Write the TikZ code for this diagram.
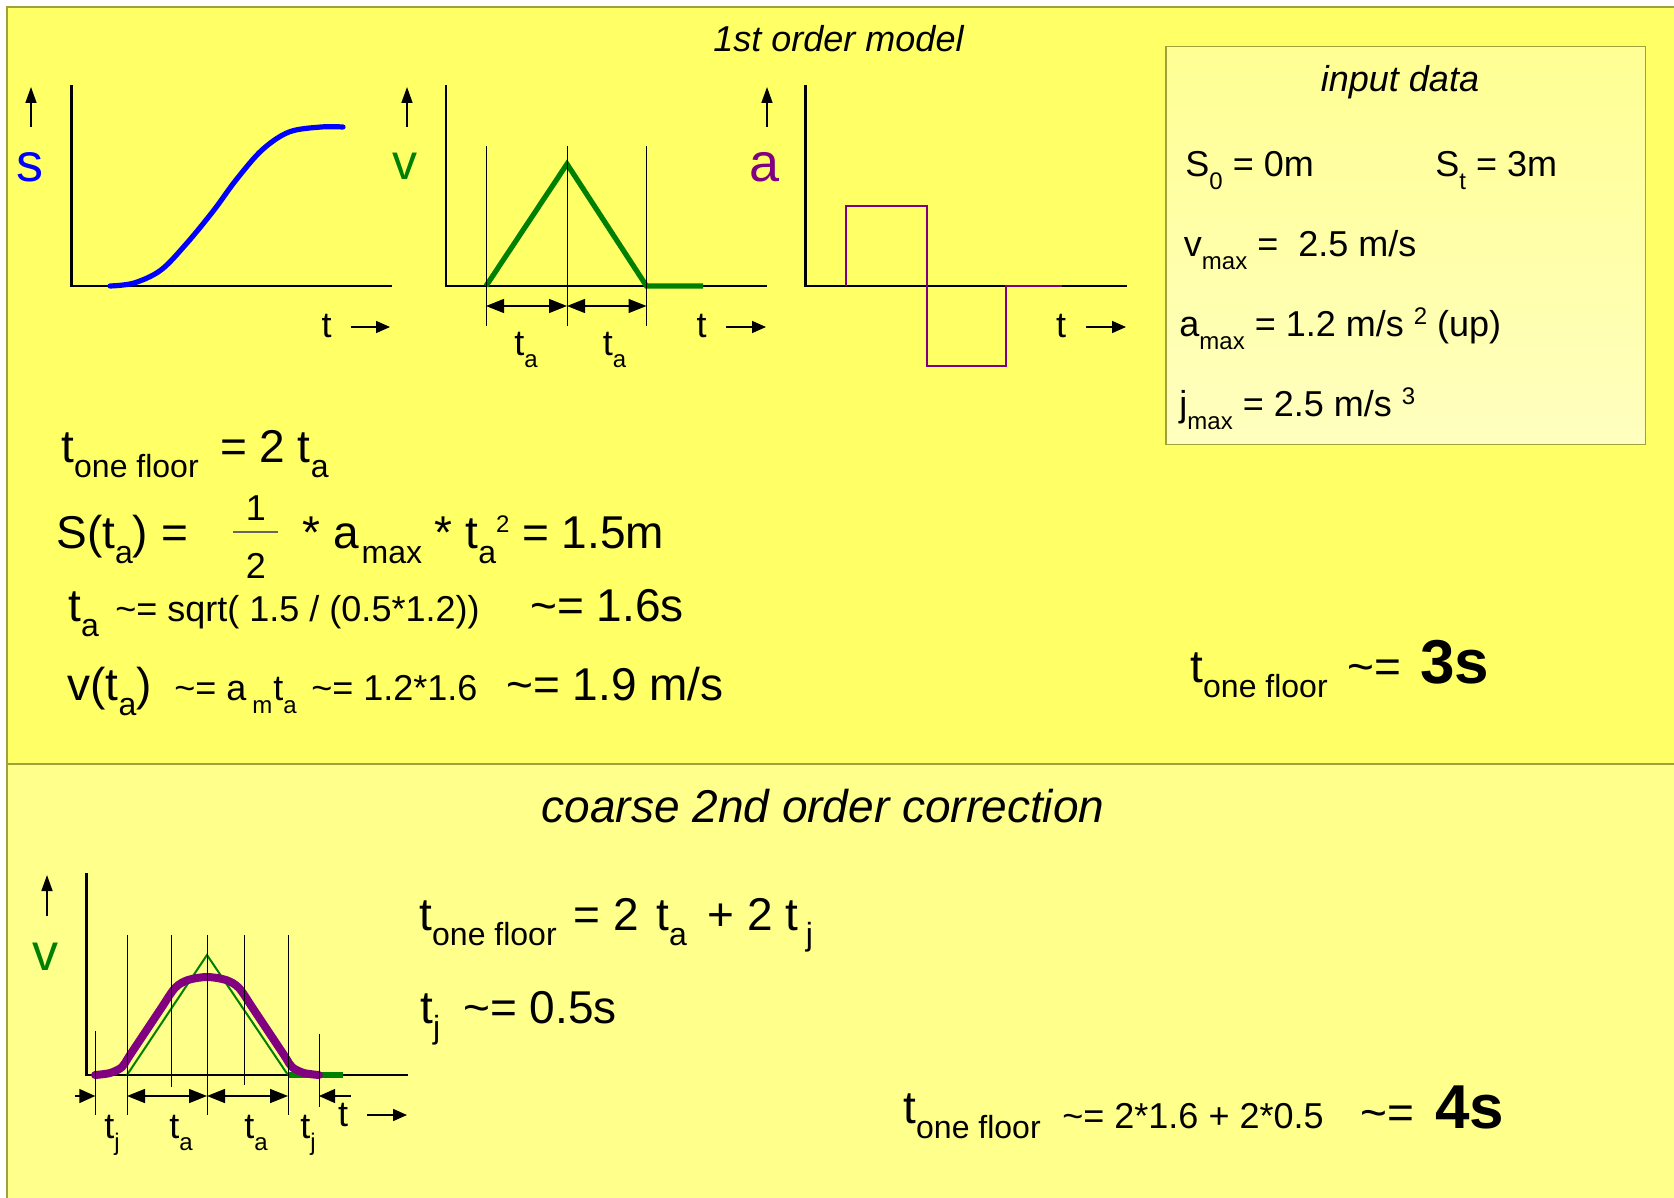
\documentclass[tikz,border=0pt]{standalone}
\usepackage{fontspec}
\setmainfont{Liberation Sans}
\usetikzlibrary{arrows.meta}

\definecolor{slideyellow}{RGB}{255,255,102}
\definecolor{paleyellow}{RGB}{255,255,140}
\definecolor{frameolive}{RGB}{160,160,60}
\definecolor{curveblue}{RGB}{0,0,255}
\definecolor{curvegreen}{RGB}{0,128,0}
\definecolor{curvepurple}{RGB}{128,0,128}

\newcommand\appr{\textasciitilde=}
\newcommand\lo[1]{\raisebox{-.33em}{\fontsize{16}{16}\selectfont #1}}
\newcommand\slo[1]{\raisebox{-.36em}{\fontsize{12}{12}\selectfont #1}}
\newcommand\shi[1]{\raisebox{.33em}{\fontsize{12}{12}\selectfont #1}}

\tikzset{
  bigtxt/.style={font=\fontsize{23}{23}\selectfont, inner sep=0pt, anchor=base west},
  midtxt/.style={font=\fontsize{18}{18}\selectfont, inner sep=0pt, anchor=base west},
  tinytxt/.style={font=\fontsize{12}{12}\selectfont, inner sep=0pt, anchor=base west},
  boldtxt/.style={font=\fontsize{31}{31}\selectfont\bfseries, inner sep=0pt, anchor=base west},
  headtxt/.style={font=\fontsize{18}{18}\selectfont\itshape, inner sep=0pt, anchor=base},
  axislabel/.style={font=\fontsize{27}{27}\selectfont, inner sep=0pt, anchor=base},
  axisline/.style={line width=1.4pt},
  thinline/.style={line width=.5pt},
  uparrow/.style={line width=.8pt, -{Triangle[length=8pt,width=5.5pt]}},
  tarrow/.style={line width=.8pt, -{Triangle[length=7pt,width=6pt]}},
  dimarrow/.style={line width=.7pt, {Triangle[length=9pt,width=7pt]}-{Triangle[length=9pt,width=7pt]}},
  onearrow/.style={line width=.7pt, -{Triangle[length=8pt,width=7pt]}}
}

\begin{document}
\begin{tikzpicture}[x=.5pt, y=-.5pt]
\useasboundingbox (0,0) rectangle (1674,1198);
\clip (0,0) rectangle (1674,1198);
\fill[white] (0,0) rectangle (1674,1198);

% panels
\draw[frameolive, fill=slideyellow, line width=.8pt] (7,7) rectangle (1690,764);
\draw[frameolive, fill=paleyellow, line width=.8pt] (7,764) rectangle (1690,1210);
\draw[frameolive, line width=.8pt, top color=yellow!42!white, bottom color=yellow!25!white] (1166,46.5) rectangle (1645.5,444.5);

\node[headtxt] (ordertitle) at (838.5,52) {1st order model};
\node[headtxt] (boxtitle) at (1400,92) {input data};
\node[headtxt, font=\fontsize{23}{23}\selectfont\itshape] (corrtitle) at (823,822) {coarse 2nd order correction};

% s plot
\draw[axisline] (71.5,85) -- (71.5,286) -- (392,286);
\draw[uparrow] (31,127) -- (31,87);
\node[axislabel, text=curveblue] (slabel) at (30.5,182) {s};
\draw[curveblue, line width=2.6pt, line cap=round] plot[smooth, tension=.55] coordinates
  {(110,286) (134,283) (161,270) (187,243) (214,210) (236,180) (262,150) (289,132) (321,127) (343,127)};
\node[midtxt, anchor=base] (tone) at (326.5,337) {t};
\draw[tarrow] (351,327) -- (390,327);

% v plot
\draw[axisline] (446,85) -- (446,286) -- (767,286);
\draw[uparrow] (407,127) -- (407,87);
\node[axislabel, text=curvegreen, font=\fontsize{25}{25}\selectfont] (vlabel) at (405,180) {v};
\draw[curvegreen, line width=2.6pt] (486,286) -- (567,164) -- (646.5,286) -- (703,286);
\foreach \x in {486,567,646.5}
  \draw[thinline] (\x,146) -- (\x,326);
\draw[dimarrow] (486,306) -- (567,306);
\draw[dimarrow] (567,306) -- (646.5,306);
\node[midtxt] (taone) at (514,355) {t\slo{a}};
\node[midtxt] (tatwo) at (602.5,355) {t\slo{a}};
\node[midtxt, anchor=base] (ttwo) at (701.5,337) {t};
\draw[tarrow] (726,327) -- (766,327);

% a plot
\draw[axisline] (805.6,85) -- (805.6,286) -- (1126.6,286);
\draw[uparrow] (767,127) -- (767,87);
\node[axislabel, text=curvepurple] (alabel) at (764.6,182) {a};
\draw[curvepurple, line width=1.2pt] (845.7,286) -- (845.7,206) -- (927,206) -- (927,366)
  -- (1006,366) -- (1006,286) -- (1062,286);
\node[midtxt, anchor=base] (tthree) at (1061,337) {t};
\draw[tarrow] (1086,327) -- (1126,327);

% input data
\node[midtxt] (szero) at (1185,176.7) {S\slo{0} = 0m};
\node[midtxt] (stop) at (1435,176.7) {S\slo{t} = 3m};
\node[midtxt] (vmax) at (1183.5,256.7) {v\slo{max} =\ \ 2.5 m/s};
\node[midtxt] (amax) at (1179,336.7) {a\slo{max} = 1.2 m/s \shi{2} (up)};
\node[midtxt] (jmax) at (1179,416.7) {j\slo{max} = 2.5 m/s \shi{3}};

% first order formulas
\node[bigtxt] (floorone) at (61,462) {t\lo{one floor}};
\node[bigtxt] (flooronerhs) at (219.6,462) {= 2 t\lo{a}};
\node[bigtxt] (sta) at (56,548) {S(t\lo{a}) =};
\node[font=\fontsize{18}{18}\selectfont, inner sep=0pt, anchor=base] (fracnum) at (256,520) {1};
\node[font=\fontsize{18}{18}\selectfont, inner sep=0pt, anchor=base] (fracden) at (256,578) {2};
\draw[line width=.8pt, black!60] (233,532) -- (277.5,532);
\node[bigtxt] (starhs) at (302,548) {* a\hspace{1.5pt}\lo{max} * t\lo{a}\shi{2} = 1.5m};
\node[bigtxt] (taval) at (68,621.7) {t\lo{a}};
\node[midtxt] (tacalc) at (115,621.7) {\appr{} sqrt( 1.5 / (0.5*1.2))};
\node[bigtxt] (tares) at (530,621.7) {\appr{} 1.6s};
\node[bigtxt] (vta) at (67,700) {v(t\lo{a})};
\node[midtxt] (vcalca) at (174,700) {\appr{} a};
\node[tinytxt] (vcalcm) at (252,713) {m};
\node[midtxt] (vcalct) at (273,700) {t};
\node[tinytxt] (vcalcsub) at (283,713) {a};
\node[midtxt] (vcalcnum) at (311,700) {\appr{} 1.2*1.6};
\node[bigtxt] (vres) at (506,700) {\appr{} 1.9 m/s};
\node[bigtxt] (floorthree) at (1190,682) {t\lo{one floor}};
\node[bigtxt] (floorthreeeq) at (1347,682) {\appr};
\node[boldtxt] (threes) at (1420,683) {3s};

% second order plot
\draw[axisline] (86.8,873) -- (86.8,1075) -- (408,1075);
\draw[uparrow] (47,916) -- (47,875);
\node[axislabel, text=curvegreen, font=\fontsize{26}{26}\selectfont] (vlabeltwo) at (45.5,970) {v};
\draw[curvegreen, line width=1pt] (127,1075) -- (207,955) -- (288,1075);
\draw[curvegreen, line width=2.6pt] (288,1075) -- (343,1075);
\draw[curvepurple, line width=4pt, line cap=round] plot[smooth, tension=.5] coordinates
  {(95,1075) (110,1073) (122,1067) (130,1055) (160,1010) (175,988) (188,980) (207,977)
   (226,980) (239,988) (254,1010) (284,1055) (292,1067) (304,1073) (319,1075)};
\draw[thinline] (95.3,1031) -- (95.3,1115);
\foreach \x/\y in {127/1115, 171/1087, 207/1115, 244/1085, 288/1115}
  \draw[thinline] (\x,935) -- (\x,\y);
\draw[thinline] (319,1034) -- (319,1107);
\draw[onearrow] (75,1096) -- (95.3,1096);
\draw[dimarrow] (127,1096) -- (207,1096);
\draw[dimarrow] (207,1096) -- (288,1096);
\draw[onearrow] (351,1096) -- (319,1096);
\node[midtxt] (tjone) at (104,1138) {t\slo{j}};
\node[midtxt] (tathree) at (169,1138) {t\slo{a}};
\node[midtxt] (tafour) at (244,1138) {t\slo{a}};
\node[midtxt] (tjtwo) at (300,1138) {t\slo{j}};
\node[midtxt, anchor=base] (tfour) at (343,1126) {t};
\draw[tarrow] (367,1115) -- (407,1115);

% second order formulas
\node[bigtxt] (floortwo) at (419,930) {t\lo{one floor}};
\node[bigtxt] (floortwoeq) at (573,930) {= 2};
\node[bigtxt] (floortwota) at (656,930) {t\lo{a}};
\node[bigtxt] (floortwoplus) at (707,930) {+ 2};
\node[bigtxt] (floortwotj) at (785,930) {t\,\lo{j}};
\node[bigtxt] (tjval) at (420,1023) {t\lo{j}};
\node[bigtxt] (tjres) at (463,1023) {\appr{} 0.5s};
\node[bigtxt] (floorfour) at (903,1123) {t\lo{one floor}};
\node[midtxt] (floorfourcalc) at (1062,1128) {\appr{} 2*1.6 + 2*0.5};
\node[bigtxt] (floorfoureq) at (1360,1128) {\appr};
\node[boldtxt] (fours) at (1435,1128) {4s};
\end{tikzpicture}
\end{document}
